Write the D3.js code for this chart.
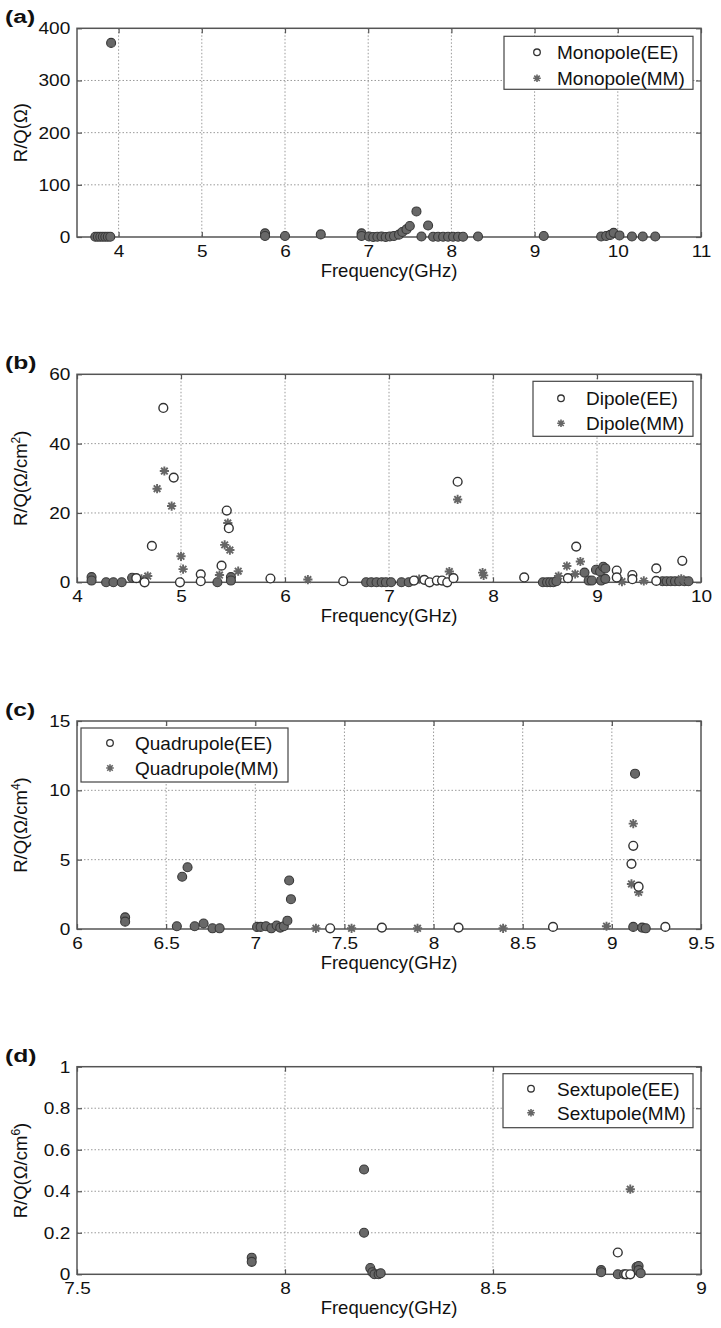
<!DOCTYPE html>
<html><head><meta charset="utf-8">
<script src="https://cdn.jsdelivr.net/npm/d3@7"></script>
<style>
body{margin:0;background:#fff}
svg{display:block}
text{font-family:"Liberation Sans",Arial,Helvetica,sans-serif;fill:#111}
</style>
</head><body>
<svg id="chart" width="721" height="1328"></svg>
<script>
// ---------------- DATA ----------------
// Each panel: points shared by EE and MM (overlapping markers), EE-only, MM-only. [frequency GHz, R/Q]
const monoBoth = [[3.72,0.5],[3.75,0.5],[3.78,0.5],[3.81,0.5],[3.84,0.5],[3.87,0.5],[3.90,0.5],[3.91,372],
  [5.76,7],[5.76,2],[6.00,2],[6.43,5],[6.92,7],[6.92,2],
  [7.01,1],[7.06,0],[7.11,0.5],[7.16,1],[7.21,0],[7.26,1],[7.31,2],[7.37,4.5],[7.41,9.5],[7.46,14.6],[7.50,21],
  [7.58,49],[7.64,1],[7.72,22],[7.78,0.5],[7.84,0.5],[7.90,0.5],[7.96,0.5],[8.02,0.5],[8.08,0.5],[8.14,0.5],[8.32,1],
  [9.11,2],[9.80,1],[9.86,2],[9.91,4],[9.95,8],[10.02,3],[10.17,1],[10.30,1],[10.45,1]];
const monoEE = [];
const monoMM = [];

const dipBoth = [[4.14,1.5],[4.14,0.5],[4.28,0],[4.35,0],[4.43,0],[4.53,1.3],[5.35,0],[5.48,1.5],[5.48,0.5],
  [6.78,0],[6.83,0],[6.88,0],[6.93,0],[6.97,0],[7.02,0],[7.12,0],[7.19,0],
  [8.48,0],[8.52,0],[8.55,0],[8.58,0],[8.61,0.3],[8.88,2.8],[8.92,0.5],[8.95,0.5],[8.99,3.6],[9.03,3.1],
  [9.06,4.5],[9.08,4.0],[9.04,0.5],[9.08,1],[9.63,0.3],[9.67,0.3],[9.71,0.3],[9.75,0.3],[9.79,0.3],[9.84,0.3],[9.88,0.3]];
const dipEE = [[4.57,1.2],[4.65,0],[4.72,10.5],[4.83,50.3],[4.93,30.2],[4.99,0],[5.19,2.3],[5.19,0.3],[5.39,4.8],
  [5.44,20.7],[5.46,15.6],[5.86,1.1],[6.56,0.3],[7.24,0.5],[7.34,0.7],[7.39,0],[7.46,0.5],[7.51,0.5],[7.56,0],
  [7.62,1.2],[7.66,29],[8.30,1.4],[8.72,1.2],[8.80,10.3],[9.19,3.4],[9.19,1.4],[9.34,2.1],[9.34,0.9],
  [9.57,4.0],[9.57,0.4],[9.82,6.2]];
const dipMM = [[4.62,1],[4.68,1.8],[4.77,27],[4.84,32.1],[4.91,22],[5.00,7.5],[5.02,3.8],[5.37,2.1],[5.42,10.8],
  [5.45,17.1],[5.47,9.3],[5.55,3.2],[6.22,0.8],[7.29,0.9],[7.58,3.1],[7.66,23.9],[7.90,2.8],[7.91,2.0],
  [8.63,1.8],[8.71,4.7],[8.79,2.4],[8.84,6.0],[9.24,0.2],[9.45,0.4],[9.81,1.0]];

const quadBoth = [[6.27,0.84],[6.27,0.53],[6.56,0.2],[6.59,3.77],[6.62,4.45],[6.66,0.2],[6.71,0.4],[6.76,0.05],
  [6.80,0.05],[7.01,0.15],[7.03,0.15],[7.06,0.2],[7.09,0.05],[7.12,0.25],[7.14,0.1],[7.16,0.2],[7.18,0.6],
  [7.19,3.5],[7.20,2.15],[9.12,0.15],[9.13,11.2],[9.17,0.1],[9.19,0.05]];
const quadEE = [[7.42,0.05],[7.71,0.1],[8.14,0.1],[8.67,0.15],[9.12,6.0],[9.11,4.7],[9.15,3.05],[9.30,0.15]];
const quadMM = [[7.34,0.05],[7.54,0.05],[7.91,0.05],[8.39,0.05],[8.97,0.2],[9.12,7.6],[9.11,3.25],[9.15,2.65]];

const sextBoth = [[7.92,0.08],[7.92,0.06],[8.19,0.505],[8.19,0.2],[8.205,0.03],[8.21,0.01],[8.215,0],[8.225,0],
  [8.23,0.005],[8.76,0.02],[8.76,0.01],[8.80,0],[8.815,0],[8.845,0.035],[8.85,0.04],[8.85,0.02],[8.855,0.005]];
const sextEE = [[8.80,0.105],[8.82,0],[8.83,0]];
const sextMM = [[8.83,0.41]];

const legendNames = [["Monopole(EE)","Monopole(MM)"],["Dipole(EE)","Dipole(MM)"],
  ["Quadrupole(EE)","Quadrupole(MM)"],["Sextupole(EE)","Sextupole(MM)"]];
const panelLetters = ["(a)","(b)","(c)","(d)"];
const yUnitSup = [null,"2","4","6"];
const xTicksA = [4,5,6,7,8,9,10,11];
const xTicksB = [4,5,6,7,8,9,10];
const xTicksC = [6,6.5,7,7.5,8,8.5,9,9.5];
const xTicksD = [7.5,8,8.5,9];
const yTicksA = [0,100,200,300,400];
const yTicksB = [0,20,40,60];
const yTicksC = [0,5,10,15];
const yTicksD = [0,0.2,0.4,0.6,0.8,1];

// ---------------- LAYOUT ----------------
const L = 77, R = 701;
const panels = [
  {top:28.3, bottom:237, xd:[3.5,11], yd:[0,400], xt:xTicksA, yt:yTicksA, both:monoBoth, ee:monoEE, mm:monoMM,
   leg:{x0:504,x1:693,dy0:8,dy1:61,mx:537,tx:557,r1:24,r2:50}},
  {top:374.3, bottom:582.3, xd:[4,10], yd:[0,60], xt:xTicksB, yt:yTicksB, both:dipBoth, ee:dipEE, mm:dipMM,
   leg:{x0:533,x1:693,dy0:7,dy1:62,mx:561,tx:586,r1:24,r2:49}},
  {top:721, bottom:929, xd:[6,9.5], yd:[0,15], xt:xTicksC, yt:yTicksC, both:quadBoth, ee:quadEE, mm:quadMM,
   leg:{x0:81,x1:288,dy0:7,dy1:61,mx:110,tx:135,r1:22,r2:47}},
  {top:1066.7, bottom:1274.3, xd:[7.5,9], yd:[0,1], xt:xTicksD, yt:yTicksD, both:sextBoth, ee:sextEE, mm:sextMM,
   leg:{x0:503,x1:693,dy0:7,dy1:61,mx:531,tx:557,r1:22,r2:46}}
];

const svg = d3.select("#chart");
const starPath = (s) => {
  const d = s*0.72;
  return `M${-s},0H${s}M0,${-s}V${s}M${-d},${-d}L${d},${d}M${-d},${d}L${d},${-d}`;
};
const fmt = v => String(v);

panels.forEach((p, i) => {
  const x = d3.scaleLinear().domain(p.xd).range([L, R]);
  const y = d3.scaleLinear().domain(p.yd).range([p.bottom, p.top]);
  const g = svg.append("g");

  // grid
  g.append("g").selectAll("line").data(p.xt.filter(t => t > p.xd[0] && t < p.xd[1])).join("line")
    .attr("x1", d => x(d)).attr("x2", d => x(d)).attr("y1", p.top).attr("y2", p.bottom)
    .attr("stroke", "#9a9a9a").attr("stroke-width", 1).attr("stroke-dasharray", "1.5,2");
  g.append("g").selectAll("line").data(p.yt.filter(t => t > p.yd[0] && t < p.yd[1])).join("line")
    .attr("y1", d => y(d)).attr("y2", d => y(d)).attr("x1", L).attr("x2", R)
    .attr("stroke", "#9a9a9a").attr("stroke-width", 1).attr("stroke-dasharray", "1.5,2");

  // axes
  const axB = g.append("g").attr("transform", `translate(0,${p.bottom})`)
    .call(d3.axisBottom(x).tickValues(p.xt).tickFormat(fmt).tickSizeInner(-5).tickSizeOuter(0).tickPadding(8));
  const axT = g.append("g").attr("transform", `translate(0,${p.top})`)
    .call(d3.axisTop(x).tickValues(p.xt).tickFormat("").tickSizeInner(-5).tickSizeOuter(0));
  const axL = g.append("g").attr("transform", `translate(${L},0)`)
    .call(d3.axisLeft(y).tickValues(p.yt).tickFormat(fmt).tickSizeInner(-5).tickSizeOuter(0).tickPadding(6));
  const axR = g.append("g").attr("transform", `translate(${R},0)`)
    .call(d3.axisRight(y).tickValues(p.yt).tickFormat("").tickSizeInner(-5).tickSizeOuter(0));
  [axB, axT, axL, axR].forEach(a => {
    a.select(".domain").remove();
    a.selectAll(".tick line").attr("stroke", "#555").attr("stroke-width", 1.2);
    a.selectAll("text").attr("font-size", 17).attr("fill", "#111")
      .attr("font-family", '"Liberation Sans",Arial,sans-serif');
  });
  axL.selectAll("text").attr("transform", "scale(1.12,1)");
  axB.selectAll("text").attr("transform", "scale(1.12,1)");

  // frame
  g.append("rect").attr("x", L).attr("y", p.top).attr("width", R - L).attr("height", p.bottom - p.top)
    .attr("fill", "none").attr("stroke", "#555").attr("stroke-width", 1.5);

  // markers
  g.append("g").selectAll("circle").data(p.both).join("circle")
    .attr("cx", d => x(d[0])).attr("cy", d => y(d[1])).attr("r", 4.5)
    .attr("fill", "#686868").attr("stroke", "#383838").attr("stroke-width", 1.1);
  g.append("g").selectAll("path").data(p.mm).join("path")
    .attr("transform", d => `translate(${x(d[0])},${y(d[1])})`).attr("d", starPath(4.6))
    .attr("stroke", "#666").attr("stroke-width", 1.9).attr("fill", "none");
  g.append("g").selectAll("circle").data(p.ee).join("circle")
    .attr("cx", d => x(d[0])).attr("cy", d => y(d[1])).attr("r", 4.4)
    .attr("fill", "#fff").attr("stroke", "#333").attr("stroke-width", 1.4);

  // legend
  const lg = p.leg;
  const lgg = g.append("g");
  lgg.append("rect").attr("x", lg.x0).attr("y", p.top + lg.dy0).attr("width", lg.x1 - lg.x0)
    .attr("height", lg.dy1 - lg.dy0).attr("fill", "#fff").attr("stroke", "#444").attr("stroke-width", 1.2);
  lgg.append("circle").attr("cx", lg.mx).attr("cy", p.top + lg.r1).attr("r", 3.3)
    .attr("fill", "#fff").attr("stroke", "#333").attr("stroke-width", 1.3);
  lgg.append("path").attr("transform", `translate(${lg.mx},${p.top + lg.r2})`).attr("d", starPath(3.8))
    .attr("stroke", "#666").attr("stroke-width", 1.6).attr("fill", "none");
  lgg.selectAll("text").data(legendNames[i]).join("text")
    .attr("x", lg.tx).attr("y", (d, k) => p.top + (k ? lg.r2 : lg.r1)).attr("dy", "0.36em")
    .attr("font-size", 19).text(d => d);

  // x label
  g.append("text").attr("x", (L + R) / 2).attr("y", p.bottom + 40).attr("text-anchor", "middle")
    .attr("font-size", 18.5).text("Frequency(GHz)");

  // y label
  const yl = g.append("text").attr("transform", `translate(27,${(p.top + p.bottom) / 2}) rotate(-90)`)
    .attr("text-anchor", "middle").attr("font-size", 18.5);
  if (yUnitSup[i] === null) {
    yl.text("R/Q(\u03A9)");
  } else {
    yl.append("tspan").text("R/Q(\u03A9/cm");
    yl.append("tspan").attr("font-size", 12).attr("dy", -7).text(yUnitSup[i]);
    yl.append("tspan").attr("dy", 7).text(")");
  }

  // panel letter
  g.append("text").attr("transform", `translate(5,${p.top - 5}) scale(1.3,1)`)
    .attr("font-family", '"Liberation Serif","Times New Roman",serif').attr("font-weight", "bold")
    .attr("font-size", 19).text(panelLetters[i]);
});
</script>
</body></html>
